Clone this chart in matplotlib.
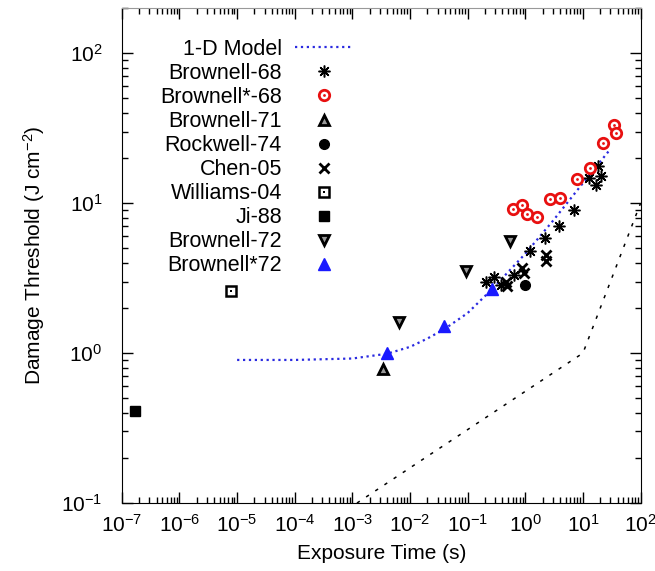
import numpy as np
import matplotlib
matplotlib.use('Agg')
import matplotlib.pyplot as plt
from matplotlib.ticker import LogLocator, NullFormatter
from matplotlib.legend_handler import HandlerTuple

plt.rcParams['font.family'] = ['Liberation Sans', 'DejaVu Sans']
plt.rcParams['mathtext.fontset'] = 'custom'
plt.rcParams['mathtext.rm'] = 'Liberation Sans'
plt.rcParams['mathtext.it'] = 'Liberation Sans:italic'

# 1-D model curve
model_t = [1e-5, 1e-4, 1e-3, 4e-3, 1e-2, 2e-2, 4e-2, 0.1, 0.26, 1, 3, 10, 28]
model_h = [0.90, 0.90, 0.92, 0.99, 1.10, 1.25, 1.45, 1.85, 2.65, 4.6, 7.6, 13.6, 22.2]

# dashed reference line (no legend entry)
ref_t = [1.2e-3, 10, 100]
ref_h = [0.1, 1.0, 10.0]

# Brownell-68
b68_t = [0.207, 0.29, 0.375, 0.64, 1.23, 2.19, 3.8, 6.9, 12.5, 17.0, 18.6, 20.4]
b68_h = [2.99, 3.23, 2.84, 3.31, 4.81, 5.82, 7.0, 8.98, 14.6, 13.2, 17.6, 15.1]

# Brownell*-68
b68s_t = [0.62, 0.86, 1.05, 1.61, 2.73, 4.06, 7.9, 13.4, 21.9, 35.2, 37.5]
b68s_h = [9.08, 9.7, 8.45, 8.07, 10.7, 10.8, 14.5, 17.2, 25.2, 33.0, 29.4]

# Brownell-71
b71_t = [3.4e-3]
b71_h = [0.78]

# Rockwell-74
r74_t = [0.97]
r74_h = [2.84]

# Chen-05
c05_t = [0.457, 0.48, 0.89, 0.95, 2.33, 2.33]
c05_h = [2.99, 2.81, 3.67, 3.4, 4.5, 4.12]

# Williams-04
w04_t = [7.9e-6]
w04_h = [2.6]

# Ji-88
j88_t = [1.7e-7]
j88_h = [0.41]

# Brownell-72
b72_t = [6.5e-3, 0.093, 0.55]
b72_h = [1.61, 3.52, 5.6]

# Brownell*72
b72s_t = [4.0e-3, 0.039, 0.26]
b72s_h = [1.0, 1.51, 2.67]

fig = plt.figure(figsize=(6.55, 5.71), dpi=100)
ax = fig.add_axes([0.186, 0.119, 0.792, 0.867])
ax.set_xscale('log')
ax.set_yscale('log')

blue = '#1a1aff'
red = '#e81010'

ax.plot(ref_t, ref_h, color='black', lw=1.1, dashes=(2.2, 5))
h_model, = ax.plot(model_t, model_h, color='#2a2ae0', lw=1.6, ls=':')

h_b68, = ax.plot(b68_t, b68_h, ls='none', marker=(8, 2, 0), ms=8.5, mew=1.1, color='black')

h_ring, = ax.plot(b68s_t, b68s_h, ls='none', marker='o', ms=7.5, mew=2.0, mfc='white', mec=red)
h_rdot, = ax.plot(b68s_t, b68s_h, ls='none', marker='o', ms=2.0, mew=0, color=red)

h_b71, = ax.plot(b71_t, b71_h, ls='none', marker='^', ms=6.5, mew=2.0, mfc='0.6', mec='black')
h_r74, = ax.plot(r74_t, r74_h, ls='none', marker='o', ms=7, color='black')
h_c05, = ax.plot(c05_t, c05_h, ls='none', marker='x', ms=7, mew=2.0, color='black')

h_sq, = ax.plot(w04_t, w04_h, ls='none', marker='s', ms=7, mew=1.8, mfc='white', mec='black')
h_sqd, = ax.plot(w04_t, w04_h, ls='none', marker='s', ms=2.0, mew=0, color='black')

h_j88, = ax.plot(j88_t, j88_h, ls='none', marker='s', ms=6.5, color='black')
h_b72, = ax.plot(b72_t, b72_h, ls='none', marker='v', ms=6.5, mew=2.0, mfc='0.6', mec='black')
h_b72s, = ax.plot(b72s_t, b72s_h, ls='none', marker='^', ms=9, color=blue)

ax.set_xlim(1e-7, 1e2)
ax.set_ylim(0.1, 200)

for axis in (ax.xaxis, ax.yaxis):
    axis.set_major_locator(LogLocator(base=10, numticks=20))
    axis.set_minor_locator(LogLocator(base=10, subs=np.arange(2, 10), numticks=100))
    axis.set_minor_formatter(NullFormatter())

ax.tick_params(which='both', direction='in', top=True, right=True, labelsize=15)
ax.tick_params(which='major', length=8, width=1)
ax.tick_params(which='minor', length=4, width=1)
ax.tick_params(axis='x', which='major', pad=8)
ax.tick_params(axis='y', which='major', pad=14)
ax.spines['top'].set_color('0.6')

ax.set_xlabel('Exposure Time (s)', fontsize=15, labelpad=6)
ax.set_ylabel('Damage Threshold (J cm$^{-2}$)', fontsize=15, labelpad=10)

handles = [h_model, h_b68, (h_ring, h_rdot), h_b71, h_r74, h_c05, (h_sq, h_sqd), h_j88, h_b72, h_b72s]
labels = ['1-D Model', 'Brownell-68', 'Brownell*-68', 'Brownell-71', 'Rockwell-74',
          'Chen-05', 'Williams-04', 'Ji-88', 'Brownell-72', 'Brownell*72']
fig.legend(handles, labels, loc='upper right', bbox_to_anchor=(353 / 655, 1 - 39 / 571),
           frameon=False, markerfirst=False, fontsize=15.5, handlelength=2.7,
           handletextpad=0.6, labelspacing=0.14, borderpad=0, borderaxespad=0,
           numpoints=1, handler_map={tuple: HandlerTuple(ndivide=1)})

fig.savefig('out.png', dpi=100)
